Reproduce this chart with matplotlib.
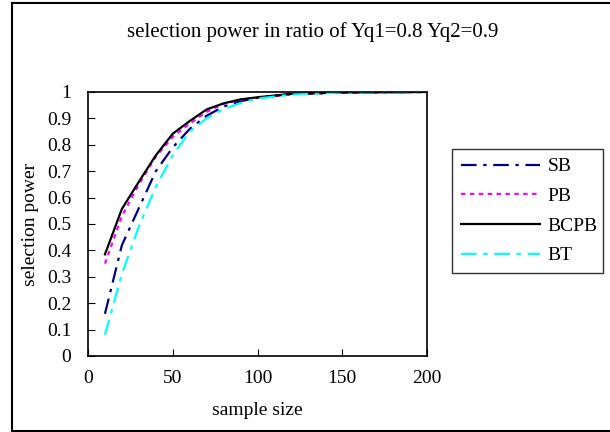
import matplotlib
matplotlib.use("Agg")
import matplotlib.pyplot as plt
from matplotlib.lines import Line2D

plt.rcParams['font.family'] = ['Liberation Serif', 'DejaVu Serif']

# sample sizes and selection power for each method
sample_size = [10, 20, 30, 40, 50, 60, 70, 80, 90, 100, 120, 150, 200]
sb = [0.16, 0.42, 0.56, 0.70, 0.79, 0.86, 0.91, 0.945, 0.965, 0.978, 0.992, 0.998, 1.0]
pb = [0.35, 0.53, 0.65, 0.755, 0.83, 0.88, 0.925, 0.955, 0.97, 0.98, 0.993, 0.998, 1.0]
bcpb = [0.385, 0.557, 0.66, 0.76, 0.842, 0.89, 0.934, 0.957, 0.972, 0.98, 0.993, 0.998, 1.0]
bt = [0.08, 0.31, 0.49, 0.64, 0.76, 0.85, 0.90, 0.935, 0.958, 0.975, 0.99, 0.998, 1.0]

W, H = 610, 432
fig = plt.figure(figsize=(W / 100, H / 100), dpi=100)
ax = fig.add_axes([88 / W, 1 - 356 / H, (427 - 88) / W, (356 - 92) / H])

ax.plot(sample_size, sb, color='#000080', lw=1.6, dashes=(7, 3, 1.5, 3), label='SB')
ax.plot(sample_size, pb, color='#ff00ff', lw=1.6, dashes=(2, 2), label='PB')
ax.plot(sample_size, bcpb, color='black', lw=1.6, label='BCPB')
ax.plot(sample_size, bt, color='#00ffff', lw=1.6, dashes=(7, 3, 2, 3), label='BT')

ax.set_xlim(0, 200)
ax.set_ylim(0, 1)
ax.set_xticks([0, 50, 100, 150, 200])
ax.set_yticks([i / 10 for i in range(11)])
ax.set_yticklabels(['0', '0.1', '0.2', '0.3', '0.4', '0.5', '0.6', '0.7', '0.8', '0.9', '1'])
ax.tick_params(direction='in', labelsize=14, length=5, pad=12)
ax.tick_params(axis='x', pad=10)
for s in ax.spines.values():
    s.set_linewidth(1.2)

ax.set_xlabel('sample size', fontsize=14, labelpad=11)
ax.set_ylabel('selection power', fontsize=14, labelpad=6)
fig.text(313 / W, 1 - 32 / H, 'selection power in ratio of Yq1=0.8 Yq2=0.9',
         ha='center', va='center', fontsize=15)

leg = ax.legend(loc='upper left', bbox_to_anchor=(452 / W, 1 - 149 / H, (603 - 452) / W, 0),
                bbox_transform=fig.transFigure, mode='expand', fontsize=14, frameon=True,
                fancybox=False, edgecolor='black', handlelength=4.1, handletextpad=0.35,
                borderaxespad=0, borderpad=0.45, labelspacing=0.62)
leg.get_frame().set_linewidth(1.0)

# outer frame: left, top and bottom edges only
fig.add_artist(Line2D([11.5 / W, 11.5 / W], [1 - 2.5 / H, 1 - 430.5 / H], color='black', lw=1.5))
fig.add_artist(Line2D([11.5 / W, 1], [1 - 2.5 / H, 1 - 2.5 / H], color='black', lw=1.5))
fig.add_artist(Line2D([11.5 / W, 1], [1 - 430.5 / H, 1 - 430.5 / H], color='black', lw=1.5))

fig.savefig('out.png', dpi=100)
